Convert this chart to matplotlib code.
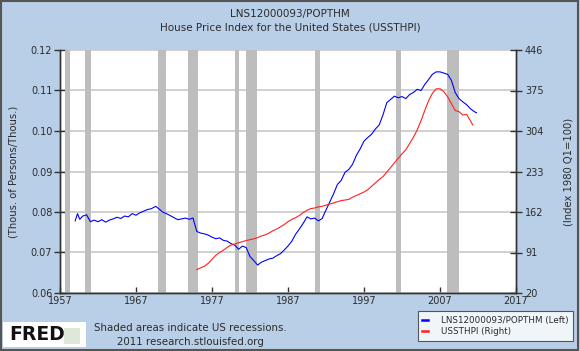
import matplotlib
matplotlib.use("Agg")
import matplotlib.pyplot as plt
from matplotlib.patches import Rectangle

# LNS12000093/POPTHM (left axis)
blue_years = [1959.0, 1959.3, 1959.6, 1960.0, 1960.5, 1961.0, 1961.5, 1962.0, 1962.5, 1963.0,
              1963.5, 1964.0, 1964.5, 1965.0, 1965.5, 1966.0, 1966.5, 1967.0, 1967.5, 1968.0,
              1968.5, 1969.0, 1969.6, 1970.0, 1970.5, 1971.0, 1971.5, 1972.0, 1972.5, 1973.0,
              1973.5, 1974.0, 1974.5, 1975.0, 1975.5, 1976.0, 1976.5, 1977.0, 1977.5, 1978.0,
              1978.5, 1979.0, 1979.5, 1980.0, 1980.5, 1981.0, 1981.5, 1982.0, 1982.5, 1983.0,
              1983.5, 1984.0, 1984.5, 1985.0, 1985.5, 1986.0, 1986.5, 1987.0, 1987.5, 1988.0,
              1988.5, 1989.0, 1989.5, 1990.0, 1990.5, 1991.0, 1991.5, 1992.0, 1992.5, 1993.0,
              1993.5, 1994.0, 1994.5, 1995.0, 1995.5, 1996.0, 1996.5, 1997.0, 1997.5, 1998.0,
              1998.5, 1999.0, 1999.5, 2000.0, 2000.5, 2001.0, 2001.5, 2002.0, 2002.5, 2003.0,
              2003.5, 2004.0, 2004.5, 2005.0, 2005.5, 2006.0, 2006.5, 2007.0, 2007.5, 2008.0,
              2008.5, 2009.0, 2009.5, 2010.0, 2010.5, 2011.0, 2011.5, 2011.8]
blue_vals = [0.0778, 0.0796, 0.0782, 0.0790, 0.0793, 0.0776, 0.0780, 0.0776, 0.0781, 0.0775,
             0.0780, 0.0783, 0.0787, 0.0784, 0.0790, 0.0788, 0.0796, 0.0792, 0.0798, 0.0802,
             0.0806, 0.0808, 0.0814, 0.0808, 0.0800, 0.0796, 0.0791, 0.0786, 0.0781, 0.0783,
             0.0785, 0.0782, 0.0785, 0.0752, 0.0748, 0.0746, 0.0743, 0.0738, 0.0734, 0.0736,
             0.0730, 0.0728, 0.0722, 0.0718, 0.0708, 0.0716, 0.0712, 0.0690, 0.0680, 0.0669,
             0.0676, 0.0680, 0.0684, 0.0686, 0.0692, 0.0697, 0.0706, 0.0716, 0.0728, 0.0745,
             0.0758, 0.0772, 0.0788, 0.0783, 0.0785, 0.0778, 0.0784, 0.0805, 0.0825, 0.0845,
             0.0868, 0.0878, 0.0898, 0.0905, 0.0918, 0.0940, 0.0956, 0.0975, 0.0984, 0.0992,
             0.1005, 0.1015, 0.1040, 0.1070, 0.1078, 0.1086, 0.1082, 0.1085, 0.1080, 0.1090,
             0.1095, 0.1103, 0.1100, 0.1115, 0.1127, 0.1140, 0.1146, 0.1146, 0.1143, 0.1140,
             0.1125, 0.1095, 0.1080, 0.1072, 0.1065, 0.1055, 0.1048, 0.1045]

# USSTHPI (right axis)
red_years = [1975.0, 1975.5, 1976.0, 1976.5, 1977.0, 1977.5, 1978.0, 1978.5, 1979.0, 1979.5,
             1980.0, 1980.5, 1981.0, 1981.5, 1982.0, 1982.5, 1983.0, 1983.5, 1984.0, 1984.5,
             1985.0, 1985.5, 1986.0, 1986.5, 1987.0, 1987.5, 1988.0, 1988.5, 1989.0, 1989.5,
             1990.0, 1990.5, 1991.0, 1991.5, 1992.0, 1992.5, 1993.0, 1993.5, 1994.0, 1994.5,
             1995.0, 1995.5, 1996.0, 1996.5, 1997.0, 1997.5, 1998.0, 1998.5, 1999.0, 1999.5,
             2000.0, 2000.5, 2001.0, 2001.5, 2002.0, 2002.5, 2003.0, 2003.5, 2004.0, 2004.5,
             2005.0, 2005.5, 2006.0, 2006.5, 2007.0, 2007.5, 2008.0, 2008.5, 2009.0, 2009.5,
             2010.0, 2010.5, 2011.0, 2011.3]
red_vals = [61, 64, 67, 72, 79, 86, 91, 95, 100, 104,
            106, 108, 110, 112, 113.5, 115, 117, 120, 122, 125,
            129, 132, 136, 140, 145, 149, 152, 156, 161, 165,
            168, 169, 171, 172, 174, 176, 178, 180, 182, 183,
            184, 188, 191, 194, 197, 201, 207, 213, 219, 224,
            232, 240, 248, 256, 264, 271, 282, 293, 306, 322,
            340, 357, 370, 378, 378, 373, 364, 352, 340, 338,
            332, 333, 322, 315]

recessions = [(1957.6, 1958.3), (1960.3, 1961.1), (1969.9, 1970.9), (1973.9, 1975.2),
              (1980.0, 1980.5), (1981.5, 1982.9), (1990.5, 1991.2), (2001.2, 2001.9),
              (2007.9, 2009.5)]

left_ticks = [0.06, 0.07, 0.08, 0.09, 0.10, 0.11, 0.12]
left_labels = ["0.06", "0.07", "0.08", "0.09", "0.10", "0.11", "0.12"]
right_ticks = [20, 91, 162, 233, 304, 375, 446]
year_ticks = [1957, 1967, 1977, 1987, 1997, 2007, 2017]

bg = "#b9cfe7"
txt = "#2b2b2b"
plt.rcParams["font.family"] = ["DejaVu Sans"]

fig = plt.figure(figsize=(5.8, 3.51), dpi=100, facecolor=bg)
ax = fig.add_axes([60 / 580, 1 - 293 / 351, 456 / 580, 243 / 351])
ax.set_facecolor("white")

for a, b in recessions:
    ax.axvspan(a, b, color="#bdbdbd", lw=0, zorder=1)

ax.set_xlim(1957, 2017)
ax.set_ylim(0.06, 0.12)
ax.set_yticks(left_ticks)
ax.set_yticklabels(left_labels)
ax.set_xticks(year_ticks)
ax.grid(axis="y", color="#c8c8c8", lw=1.2, zorder=0)
ax.set_axisbelow(True)

l1, = ax.plot(blue_years, blue_vals, color="#0000ff", lw=0.8, zorder=3,
              label="LNS12000093/POPTHM (Left)")

ax2 = ax.twinx()
ax2.set_ylim(20, 446)
ax2.set_yticks(right_ticks)
l2, = ax2.plot(red_years, red_vals, color="#ff2020", lw=0.8, zorder=3,
               label="USSTHPI (Right)")

for a in (ax, ax2):
    a.spines["top"].set_visible(False)
    for s in ("left", "right", "bottom"):
        a.spines[s].set_color("#333333")
        a.spines[s].set_linewidth(1.0)

ax.tick_params(axis="y", direction="inout", length=8, width=1, colors="#333333",
               labelsize=7, labelcolor=txt, pad=1.5)
ax.tick_params(axis="x", direction="in", length=4, width=1, colors="#333333",
               labelsize=7, labelcolor=txt, pad=2.5)
ax2.tick_params(axis="y", direction="inout", length=8, width=1, colors="#333333",
                labelsize=7, labelcolor=txt, pad=2.5)

ax.set_ylabel("(Thous. of Persons/Thous.)", fontsize=7.2, color=txt, labelpad=9)
ax2.set_ylabel("(Index 1980 Q1=100)", fontsize=7.2, color=txt, rotation=90, labelpad=14)

fig.text(0.5, 1 - 14 / 351, "LNS12000093/POPTHM", ha="center", va="center",
         fontsize=7.5, color=txt)
fig.text(0.5, 1 - 27 / 351, "House Price Index for the United States (USSTHPI)",
         ha="center", va="center", fontsize=7.5, color=txt)

# footer
fig.text(190 / 580, 1 - 328 / 351, "Shaded areas indicate US recessions.", ha="center",
         va="center", fontsize=7.4, color=txt)
fig.text(190 / 580, 1 - 342 / 351, "2011 research.stlouisfed.org", ha="center",
         va="center", fontsize=7.4, color=txt)

fig.patches.append(Rectangle((3 / 580, 1 - 347 / 351), 83 / 580, 25 / 351,
                             transform=fig.transFigure, facecolor="white",
                             edgecolor="none", zorder=1))
fig.text(9 / 580, 1 - 335 / 351, "FRED", ha="left", va="center", fontsize=13.5,
         fontweight="bold", color="#111111", zorder=2)
fig.patches.append(Rectangle((64 / 580, 1 - 344 / 351), 16 / 580, 16 / 351,
                             transform=fig.transFigure, facecolor="#dfe8d8",
                             edgecolor="none", zorder=2))

leg = fig.legend(handles=[l1, l2], loc="lower right", bbox_to_anchor=(577 / 580, 6 / 351),
                 fontsize=6.3, frameon=True, fancybox=False, edgecolor="#333333",
                 handlelength=0.7, handletextpad=1.4, borderpad=0.5, labelspacing=0.3)
leg.get_frame().set_linewidth(0.8)
for h in leg.legend_handles:
    h.set_linewidth(1.8)
for t in leg.get_texts():
    t.set_color(txt)

fig.patches.append(Rectangle((0.002, 0.003), 0.995, 0.994, transform=fig.transFigure,
                             facecolor="none", edgecolor="#555555", lw=1.5, zorder=5))

fig.savefig("out.png", dpi=100, facecolor=bg)
